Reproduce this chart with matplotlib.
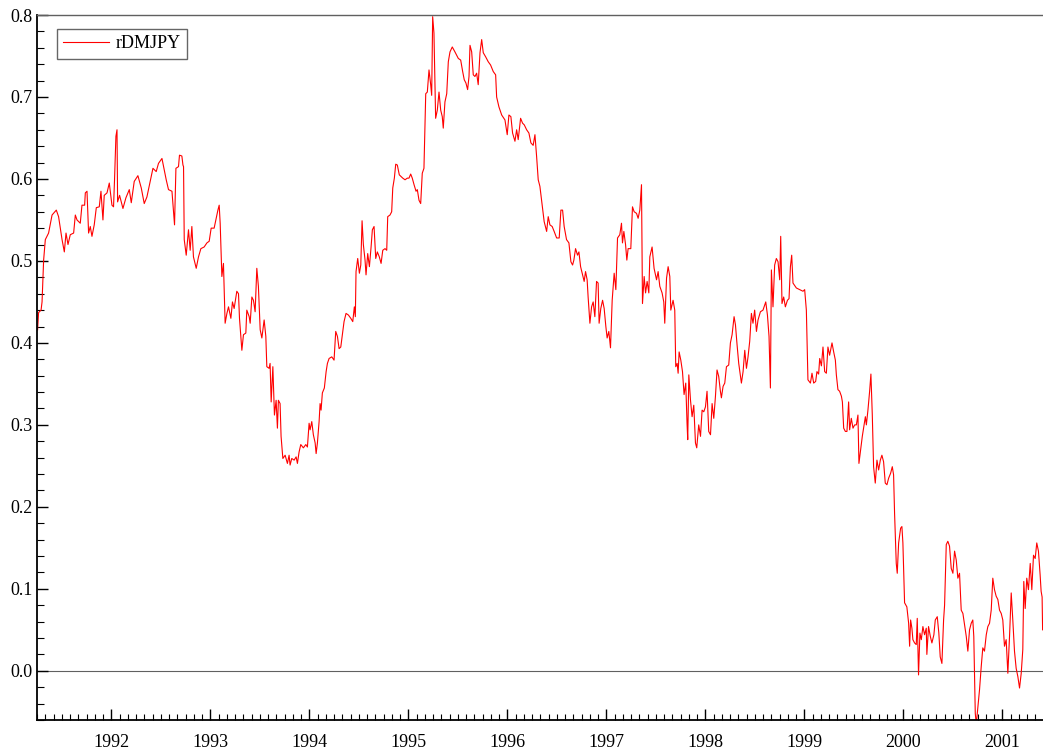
import numpy as np
import matplotlib
matplotlib.use('Agg')
import matplotlib.pyplot as plt
from matplotlib.ticker import MultipleLocator, FormatStrFormatter

# decimal year, value
years = [
    1991.256, 1991.266, 1991.291, 1991.301, 1991.317, 1991.334, 1991.367, 1991.402, 1991.445, 1991.468,
    1991.503, 1991.526, 1991.543, 1991.563, 1991.586, 1991.620, 1991.637, 1991.654, 1991.687, 1991.704,
    1991.731, 1991.738, 1991.755, 1991.771, 1991.788, 1991.805, 1991.828, 1991.849, 1991.879, 1991.896,
    1991.916, 1991.929, 1991.957, 1991.980, 1992.007, 1992.023, 1992.033, 1992.047, 1992.058, 1992.064,
    1992.084, 1992.101, 1992.118, 1992.148, 1992.182, 1992.202, 1992.232, 1992.269, 1992.303, 1992.333,
    1992.360, 1992.383, 1992.421, 1992.454, 1992.477, 1992.512, 1992.538, 1992.555, 1992.578, 1992.613,
    1992.639, 1992.653, 1992.679, 1992.689, 1992.713, 1992.724, 1992.730, 1992.737, 1992.757, 1992.780,
    1992.797, 1992.814, 1992.830, 1992.858, 1992.881, 1992.905, 1992.938, 1992.966, 1992.989, 1993.009,
    1993.039, 1993.077, 1993.090, 1993.100, 1993.117, 1993.133, 1993.150, 1993.168, 1993.184, 1993.208,
    1993.224, 1993.241, 1993.268, 1993.285, 1993.295, 1993.309, 1993.319, 1993.335, 1993.359, 1993.369,
    1993.393, 1993.403, 1993.420, 1993.436, 1993.453, 1993.470, 1993.486, 1993.504, 1993.521, 1993.544,
    1993.561, 1993.571, 1993.594, 1993.604, 1993.615, 1993.632, 1993.648, 1993.665, 1993.678, 1993.688,
    1993.705, 1993.715, 1993.733, 1993.756, 1993.779, 1993.796, 1993.806, 1993.823, 1993.847, 1993.867,
    1993.880, 1993.897, 1993.914, 1993.940, 1993.965, 1993.981, 1993.998, 1994.008, 1994.025, 1994.041,
    1994.059, 1994.069, 1994.082, 1994.099, 1994.109, 1994.119, 1994.132, 1994.152, 1994.170, 1994.183,
    1994.200, 1994.227, 1994.250, 1994.267, 1994.284, 1994.301, 1994.318, 1994.334, 1994.351, 1994.371,
    1994.395, 1994.419, 1994.439, 1994.455, 1994.465, 1994.472, 1994.489, 1994.506, 1994.520, 1994.533,
    1994.546, 1994.563, 1994.573, 1994.590, 1994.607, 1994.624, 1994.637, 1994.654, 1994.671, 1994.687,
    1994.707, 1994.725, 1994.742, 1994.765, 1994.782, 1994.792, 1994.815, 1994.832, 1994.843, 1994.859,
    1994.873, 1994.889, 1994.909, 1994.944, 1994.967, 1994.990, 1995.007, 1995.024, 1995.040, 1995.058,
    1995.078, 1995.091, 1995.108, 1995.125, 1995.141, 1995.158, 1995.176, 1995.192, 1995.209, 1995.226,
    1995.236, 1995.246, 1995.259, 1995.276, 1995.293, 1995.310, 1995.327, 1995.343, 1995.353, 1995.370,
    1995.388, 1995.404, 1995.421, 1995.444, 1995.471, 1995.505, 1995.529, 1995.549, 1995.565, 1995.582,
    1995.599, 1995.613, 1995.623, 1995.640, 1995.656, 1995.673, 1995.690, 1995.706, 1995.724, 1995.741,
    1995.757, 1995.781, 1995.807, 1995.831, 1995.858, 1995.882, 1995.892, 1995.915, 1995.943, 1995.976,
    1995.999, 1996.016, 1996.036, 1996.053, 1996.077, 1996.094, 1996.110, 1996.134, 1996.154, 1996.171,
    1996.195, 1996.218, 1996.238, 1996.261, 1996.279, 1996.296, 1996.312, 1996.329, 1996.346, 1996.372,
    1996.397, 1996.413, 1996.430, 1996.453, 1996.473, 1996.498, 1996.524, 1996.541, 1996.558, 1996.574,
    1996.598, 1996.622, 1996.642, 1996.659, 1996.672, 1996.689, 1996.709, 1996.723, 1996.740, 1996.760,
    1996.776, 1996.790, 1996.806, 1996.816, 1996.834, 1996.851, 1996.867, 1996.884, 1996.901, 1996.917,
    1996.927, 1996.944, 1996.962, 1996.978, 1996.995, 1997.008, 1997.025, 1997.042, 1997.059, 1997.079,
    1997.096, 1997.113, 1997.136, 1997.153, 1997.163, 1997.177, 1997.194, 1997.207, 1997.220, 1997.247,
    1997.264, 1997.281, 1997.305, 1997.321, 1997.338, 1997.355, 1997.365, 1997.382, 1997.396, 1997.412,
    1997.429, 1997.439, 1997.462, 1997.482, 1997.507, 1997.523, 1997.540, 1997.563, 1997.580, 1997.590,
    1997.608, 1997.624, 1997.641, 1997.651, 1997.674, 1997.691, 1997.701, 1997.715, 1997.725, 1997.735,
    1997.752, 1997.769, 1997.785, 1997.802, 1997.815, 1997.822, 1997.833, 1997.850, 1997.866, 1997.883,
    1997.900, 1997.913, 1997.933, 1997.951, 1997.967, 1997.984, 1998.001, 1998.017, 1998.034, 1998.052,
    1998.068, 1998.085, 1998.102, 1998.118, 1998.135, 1998.152, 1998.162, 1998.179, 1998.196, 1998.213,
    1998.236, 1998.253, 1998.270, 1998.290, 1998.304, 1998.320, 1998.337, 1998.364, 1998.381, 1998.398,
    1998.415, 1998.431, 1998.448, 1998.465, 1998.481, 1998.498, 1998.516, 1998.532, 1998.556, 1998.582,
    1998.610, 1998.627, 1998.643, 1998.657, 1998.667, 1998.683, 1998.700, 1998.717, 1998.734, 1998.751,
    1998.761, 1998.774, 1998.791, 1998.808, 1998.829, 1998.845, 1998.859, 1998.872, 1998.885, 1998.919,
    1998.953, 1998.986, 1999.003, 1999.020, 1999.036, 1999.061, 1999.077, 1999.094, 1999.114, 1999.127,
    1999.144, 1999.155, 1999.172, 1999.188, 1999.205, 1999.222, 1999.238, 1999.255, 1999.279, 1999.296,
    1999.313, 1999.323, 1999.339, 1999.356, 1999.374, 1999.384, 1999.397, 1999.414, 1999.430, 1999.447,
    1999.457, 1999.474, 1999.491, 1999.508, 1999.525, 1999.541, 1999.551, 1999.568, 1999.585, 1999.601,
    1999.616, 1999.626, 1999.642, 1999.659, 1999.672, 1999.686, 1999.699, 1999.716, 1999.733, 1999.750,
    1999.767, 1999.783, 1999.800, 1999.817, 1999.834, 1999.851, 1999.871, 1999.888, 1999.901, 1999.911,
    1999.928, 1999.938, 1999.952, 1999.972, 1999.985, 1999.995, 2000.012, 2000.035, 2000.053, 2000.063,
    2000.073, 2000.086, 2000.096, 2000.113, 2000.130, 2000.140, 2000.153, 2000.167, 2000.181, 2000.197,
    2000.214, 2000.231, 2000.237, 2000.254, 2000.272, 2000.288, 2000.308, 2000.322, 2000.342, 2000.358,
    2000.372, 2000.389, 2000.406, 2000.416, 2000.433, 2000.449, 2000.466, 2000.483, 2000.500, 2000.517,
    2000.534, 2000.550, 2000.567, 2000.584, 2000.601, 2000.618, 2000.635, 2000.651, 2000.668, 2000.685,
    2000.701, 2000.711, 2000.726, 2000.736, 2000.752, 2000.769, 2000.786, 2000.802, 2000.819, 2000.837,
    2000.853, 2000.870, 2000.887, 2000.903, 2000.920, 2000.937, 2000.954, 2000.971, 2000.988, 2001.004,
    2001.021, 2001.038, 2001.055, 2001.072, 2001.089, 2001.105, 2001.122, 2001.139, 2001.156, 2001.173,
    2001.190, 2001.206, 2001.216, 2001.230, 2001.246, 2001.263, 2001.281, 2001.297, 2001.314, 2001.331,
    2001.347, 2001.364, 2001.381, 2001.391, 2001.401, 2001.406,
]

rdmjpy = [
    0.416, 0.437, 0.440, 0.450, 0.501, 0.526, 0.534, 0.556, 0.562, 0.554,
    0.526, 0.511, 0.534, 0.520, 0.532, 0.534, 0.556, 0.550, 0.546, 0.568,
    0.568, 0.583, 0.585, 0.534, 0.542, 0.530, 0.544, 0.565, 0.566, 0.585,
    0.550, 0.580, 0.583, 0.595, 0.568, 0.566, 0.599, 0.652, 0.660, 0.572,
    0.580, 0.572, 0.564, 0.577, 0.587, 0.571, 0.597, 0.604, 0.589, 0.570,
    0.578, 0.591, 0.613, 0.609, 0.619, 0.625, 0.609, 0.599, 0.587, 0.585,
    0.544, 0.613, 0.615, 0.629, 0.628, 0.617, 0.615, 0.526, 0.507, 0.538,
    0.513, 0.542, 0.505, 0.491, 0.505, 0.515, 0.517, 0.522, 0.524, 0.540,
    0.540, 0.562, 0.568, 0.546, 0.481, 0.497, 0.424, 0.436, 0.444, 0.430,
    0.450, 0.442, 0.463, 0.460, 0.430, 0.408, 0.391, 0.410, 0.412, 0.440,
    0.432, 0.424, 0.456, 0.452, 0.438, 0.491, 0.469, 0.416, 0.406, 0.428,
    0.408, 0.371, 0.369, 0.375, 0.328, 0.371, 0.312, 0.330, 0.296, 0.330,
    0.326, 0.286, 0.259, 0.263, 0.253, 0.263, 0.251, 0.259, 0.257, 0.261,
    0.253, 0.267, 0.276, 0.272, 0.276, 0.273, 0.302, 0.294, 0.304, 0.288,
    0.278, 0.265, 0.278, 0.304, 0.326, 0.318, 0.339, 0.345, 0.365, 0.375,
    0.381, 0.383, 0.379, 0.414, 0.408, 0.393, 0.395, 0.410, 0.426, 0.436,
    0.434, 0.430, 0.426, 0.444, 0.432, 0.487, 0.503, 0.485, 0.495, 0.549,
    0.520, 0.501, 0.483, 0.509, 0.493, 0.517, 0.538, 0.542, 0.503, 0.511,
    0.505, 0.497, 0.513, 0.515, 0.513, 0.554, 0.556, 0.560, 0.589, 0.601,
    0.618, 0.617, 0.605, 0.601, 0.599, 0.601, 0.601, 0.606, 0.601, 0.593,
    0.585, 0.587, 0.574, 0.570, 0.607, 0.613, 0.704, 0.706, 0.733, 0.715,
    0.702, 0.798, 0.778, 0.674, 0.684, 0.706, 0.684, 0.676, 0.662, 0.694,
    0.704, 0.743, 0.755, 0.761, 0.755, 0.747, 0.745, 0.731, 0.721, 0.717,
    0.709, 0.725, 0.763, 0.755, 0.727, 0.725, 0.729, 0.715, 0.754, 0.770,
    0.754, 0.749, 0.743, 0.739, 0.731, 0.727, 0.700, 0.688, 0.678, 0.672,
    0.654, 0.678, 0.676, 0.656, 0.646, 0.660, 0.648, 0.674, 0.668, 0.666,
    0.660, 0.656, 0.644, 0.641, 0.654, 0.627, 0.599, 0.591, 0.574, 0.548,
    0.536, 0.554, 0.544, 0.542, 0.536, 0.528, 0.528, 0.562, 0.562, 0.542,
    0.526, 0.522, 0.499, 0.495, 0.501, 0.515, 0.507, 0.511, 0.493, 0.483,
    0.475, 0.487, 0.477, 0.456, 0.424, 0.444, 0.450, 0.432, 0.475, 0.473,
    0.424, 0.442, 0.452, 0.442, 0.420, 0.406, 0.414, 0.394, 0.452, 0.485,
    0.465, 0.528, 0.532, 0.546, 0.522, 0.536, 0.520, 0.501, 0.515, 0.515,
    0.566, 0.560, 0.558, 0.552, 0.562, 0.593, 0.448, 0.481, 0.461, 0.475,
    0.461, 0.505, 0.517, 0.491, 0.477, 0.487, 0.469, 0.461, 0.450, 0.424,
    0.479, 0.493, 0.481, 0.440, 0.452, 0.440, 0.371, 0.375, 0.363, 0.389,
    0.379, 0.365, 0.337, 0.351, 0.302, 0.282, 0.361, 0.330, 0.310, 0.324,
    0.278, 0.272, 0.300, 0.286, 0.318, 0.316, 0.322, 0.341, 0.292, 0.288,
    0.326, 0.308, 0.335, 0.367, 0.359, 0.341, 0.333, 0.347, 0.351, 0.371,
    0.373, 0.400, 0.410, 0.432, 0.422, 0.398, 0.375, 0.351, 0.365, 0.391,
    0.369, 0.383, 0.402, 0.436, 0.424, 0.440, 0.414, 0.428, 0.438, 0.440,
    0.450, 0.434, 0.408, 0.345, 0.489, 0.444, 0.495, 0.503, 0.499, 0.477,
    0.530, 0.448, 0.456, 0.444, 0.452, 0.454, 0.493, 0.507, 0.473, 0.467,
    0.465, 0.463, 0.465, 0.440, 0.355, 0.351, 0.363, 0.351, 0.353, 0.365,
    0.362, 0.381, 0.372, 0.395, 0.365, 0.363, 0.395, 0.385, 0.400, 0.389,
    0.379, 0.361, 0.343, 0.341, 0.335, 0.328, 0.296, 0.292, 0.292, 0.328,
    0.294, 0.308, 0.296, 0.300, 0.300, 0.312, 0.253, 0.270, 0.286, 0.298,
    0.310, 0.300, 0.318, 0.341, 0.362, 0.312, 0.249, 0.229, 0.257, 0.245,
    0.257, 0.263, 0.255, 0.229, 0.227, 0.235, 0.241, 0.249, 0.239, 0.192,
    0.131, 0.119, 0.156, 0.174, 0.176, 0.156, 0.083, 0.078, 0.058, 0.030,
    0.062, 0.052, 0.038, 0.034, 0.032, 0.064, -0.005, 0.046, 0.038, 0.054,
    0.044, 0.052, 0.020, 0.054, 0.042, 0.034, 0.044, 0.062, 0.066, 0.046,
    0.017, 0.009, 0.062, 0.080, 0.154, 0.158, 0.152, 0.125, 0.119, 0.146,
    0.135, 0.113, 0.119, 0.074, 0.070, 0.056, 0.042, 0.024, 0.050, 0.058,
    0.062, 0.042, -0.052, -0.065, -0.044, -0.023, 0.005, 0.028, 0.024, 0.044,
    0.054, 0.058, 0.074, 0.113, 0.099, 0.091, 0.087, 0.074, 0.070, 0.062,
    0.030, 0.038, -0.003, 0.042, 0.095, 0.062, 0.024, 0.003, -0.007, -0.021,
    -0.003, 0.026, 0.109, 0.076, 0.113, 0.099, 0.131, 0.099, 0.141, 0.137,
    0.156, 0.146, 0.117, 0.097, 0.090, 0.050,
]

year_ticks = list(range(1992, 2002))

plt.rcParams['font.family'] = ['Liberation Serif', 'DejaVu Serif']

fig = plt.figure(figsize=(10.43, 7.54), dpi=100)
ax = fig.add_axes([37 / 1043, 34 / 754, 1 - 37 / 1043, (720 - 15) / 754])

ax.axhline(0.0, color='#606060', lw=0.8, zorder=1)
ax.plot(years, rdmjpy, color='#ff0000', lw=0.8, label='rDMJPY', zorder=2)

ax.set_xlim(1991.25, 2001.41)
ax.set_ylim(-0.06, 0.8)

ax.set_xticks(year_ticks)
ax.set_xticklabels([str(y) for y in year_ticks])
ax.xaxis.set_minor_locator(MultipleLocator(1 / 12))
ax.yaxis.set_major_locator(MultipleLocator(0.1))
ax.yaxis.set_minor_locator(MultipleLocator(0.02))
ax.yaxis.set_major_formatter(FormatStrFormatter('%.1f'))

ax.tick_params(axis='both', which='both', direction='in', top=False, right=False,
               colors='black', labelsize=13)
ax.tick_params(axis='x', which='major', length=8, width=1.0, pad=10)
ax.tick_params(axis='x', which='minor', length=4, width=0.8)
ax.tick_params(axis='y', which='major', length=8, width=1.0, pad=3)
ax.tick_params(axis='y', which='minor', length=5, width=0.8)

ax.spines['right'].set_visible(False)
ax.spines['top'].set_color('#606060')
ax.spines['top'].set_linewidth(1.0)
ax.spines['left'].set_linewidth(1.3)
ax.spines['bottom'].set_linewidth(1.3)

leg = ax.legend(loc='upper left', bbox_to_anchor=(0.02, 0.98), fontsize=13,
                frameon=True, fancybox=False, handlelength=2.5,
                borderpad=0.35, handletextpad=0.4, borderaxespad=0.0)
leg.get_frame().set_edgecolor('#404040')
leg.get_frame().set_linewidth(1.0)

fig.savefig('out.png', dpi=100)
